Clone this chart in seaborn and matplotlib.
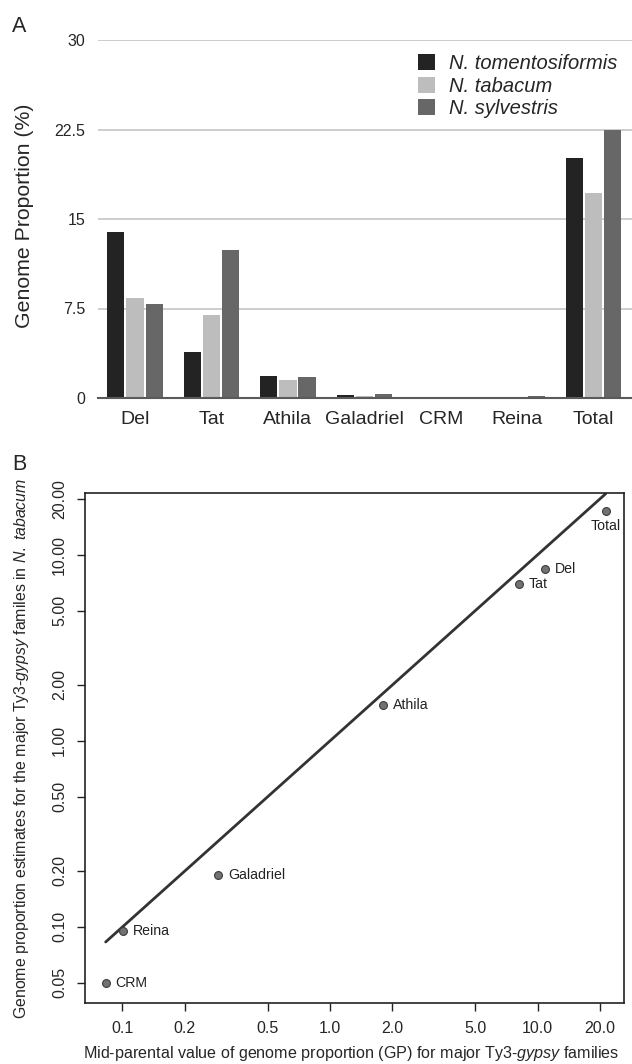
"""Ty3-gypsy genome proportions in Nicotiana: bar chart (A) and mid-parent scatter (B)"""

import matplotlib
matplotlib.use("Agg")
import matplotlib.pyplot as plt
import seaborn as sns
import numpy as np
import pandas as pd

# Panel A data: genome proportion (%) per Ty3-gypsy family
families = ["Del", "Tat", "Athila", "Galadriel", "CRM", "Reina", "Total"]
species = ["N. tomentosiformis", "N. tabacum", "N. sylvestris"]
tomentosiformis = [13.9, 3.85, 1.85, 0.25, 0.12, 0.05, 20.1]
tabacum = [8.35, 6.95, 1.55, 0.19, 0.05, 0.095, 17.2]
sylvestris = [7.85, 12.4, 1.77, 0.33, 0.046, 0.152, 22.5]

y_ticks_a = [0, 7.5, 15, 22.5, 30]
y_ticklabels_a = ["0", "7.5", "15", "22.5", "30"]

# Panel B ticks (log axes)
x_ticks_b = [0.1, 0.2, 0.5, 1.0, 2.0, 5.0, 10.0, 20.0]
y_ticks_b = [0.05, 0.1, 0.2, 0.5, 1.0, 2.0, 5.0, 10.0, 20.0]

colors = ["#232323", "#bdbdbd", "#676767"]

# Style
sns.set_style("white")
plt.rcParams["font.family"] = ["Liberation Sans", "DejaVu Sans"]
plt.rcParams["mathtext.fontset"] = "custom"
plt.rcParams["mathtext.rm"] = "Liberation Sans"
plt.rcParams["mathtext.it"] = "Liberation Sans:italic"

fig = plt.figure(figsize=(6.32, 10.64), dpi=100)

# ---------------- Panel A ----------------
df = pd.DataFrame({
    "family": families * 3,
    "species": [s for s in species for _ in families],
    "gp": tomentosiformis + tabacum + sylvestris,
})

axA = fig.add_axes([98 / 632, 1 - 398 / 1064, 534 / 632, 358 / 1064])
sns.barplot(data=df, x="family", y="gp", hue="species", hue_order=species,
            order=families, palette=colors, saturation=1, width=0.75, gap=0.1,
            linewidth=0, ax=axA)
axA.set_xlim(-0.484, 6.5)
axA.set_ylim(0, 30)
axA.set_yticks(y_ticks_a)
axA.set_yticklabels(y_ticklabels_a)
axA.yaxis.grid(True, color="#c9c9c9", linewidth=1.3)
axA.set_axisbelow(True)
for side in ["top", "right", "left"]:
    axA.spines[side].set_visible(False)
axA.spines["bottom"].set_color("#5a5a5a")
axA.spines["bottom"].set_linewidth(1.5)
axA.tick_params(axis="both", length=0)
axA.tick_params(axis="y", labelsize=11.5, pad=9)
axA.tick_params(axis="x", labelsize=14, pad=9)
axA.set_xlabel("")
axA.set_ylabel("Genome Proportion (%)", fontsize=15.3)
axA.yaxis.set_label_coords(-0.12, 0.51)

handles, labels = axA.get_legend_handles_labels()
axA.legend(handles, labels, loc="upper left", bbox_to_anchor=(418 / 632, 1 - 54 / 1064),
           bbox_transform=fig.transFigure, frameon=False, borderpad=0, borderaxespad=0,
           handlelength=0.85, handleheight=0.85, handletextpad=0.7, labelspacing=0.18,
           prop={"style": "italic", "size": 14.5})

fig.text(12 / 632, 1 - 26 / 1064, "A", fontsize=15.5, va="center", ha="left")

# ---------------- Panel B ----------------
dfb = pd.DataFrame({
    "family": families,
    "midparent": (np.array(tomentosiformis) + np.array(sylvestris)) / 2,
    "tabacum": tabacum,
})

axB = fig.add_axes([85 / 632, 1 - 1003 / 1064, 539 / 632, 510 / 1064])
lo, hi = dfb["midparent"].min(), dfb["midparent"].max()
sns.lineplot(x=[lo, hi], y=[lo, hi], color="#333333", linewidth=2.0, ax=axB)
sns.scatterplot(data=dfb, x="midparent", y="tabacum", color="#727272",
                edgecolor="#3c3c3c", linewidth=0.8, s=32, zorder=3, ax=axB)
axB.set_xscale("log")
axB.set_yscale("log")
axB.set_xlim(0.066, 26.1)
axB.set_ylim(0.039, 21.5)
axB.set_xticks(x_ticks_b)
axB.set_xticklabels([f"{v:.1f}" for v in x_ticks_b])
axB.set_yticks(y_ticks_b)
axB.set_yticklabels([f"{v:.2f}" for v in y_ticks_b])
axB.minorticks_off()
for side in axB.spines.values():
    side.set_color("#222222")
    side.set_linewidth(1.2)
axB.tick_params(axis="both", direction="out", length=6, width=1.0, color="#222222",
                labelsize=11.5, pad=7, bottom=True, left=True)
axB.tick_params(axis="y", labelrotation=90)
for lab in axB.get_yticklabels():
    lab.set_va("center")

for fam, xv, yv in zip(dfb["family"], dfb["midparent"], dfb["tabacum"]):
    if fam == "Total":
        axB.annotate(fam, (xv, yv), xytext=(0, -6), textcoords="offset points",
                     ha="center", va="top", fontsize=10.2, color="#222222")
    else:
        axB.annotate(fam, (xv, yv), xytext=(7, 0), textcoords="offset points",
                     ha="left", va="center", fontsize=10.2, color="#222222")

axB.set_xlabel(r"Mid-parental value of genome proportion (GP) for major Ty3-$\it{gypsy}$ families",
               fontsize=11.6)
axB.xaxis.set_label_coords(0.494, -0.08)
axB.set_ylabel(r"Genome proportion estimates for the major Ty3-$\it{gypsy}$ familes in $\it{N.\ tabacum}$",
               fontsize=11.4)
axB.yaxis.set_label_coords(-0.1, 0.5)

fig.text(12 / 632, 1 - 465 / 1064, "B", fontsize=15.5, va="center", ha="left")

plt.savefig("out.png", dpi=100)
plt.close()
